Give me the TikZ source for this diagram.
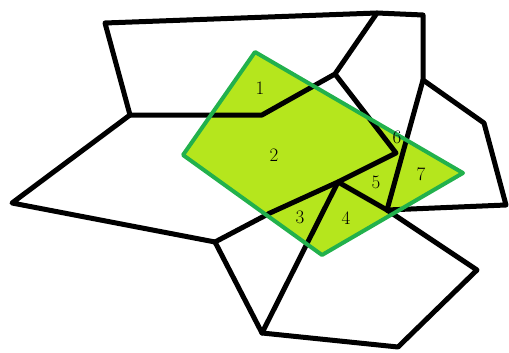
\documentclass[tikz,border=0pt]{standalone}
\usepackage{tikz}
\definecolor{paintgreen}{RGB}{34,177,76}
\definecolor{paintlime}{RGB}{181,230,29}

\begin{document}
\begin{tikzpicture}[x=1pt, y=-1pt, line join=round, line cap=round,
    edge/.style={line width=5pt, black},
    window/.style={line width=4pt, paintgreen},
    piece/.style={font=\fontsize{19}{19}\selectfont, inner sep=0pt}]

    \useasboundingbox (0,0) rectangle (509,353);

    % ================= Mesh vertices =================
    \coordinate (a) at (105,23);
    \coordinate (b) at (377,13);
    \coordinate (c) at (423,15);
    \coordinate (d) at (423,80);
    \coordinate (e) at (484,123);
    \coordinate (f) at (506,205);
    \coordinate (g) at (387,210);
    \coordinate (h) at (477,270);
    \coordinate (i) at (398,347);
    \coordinate (j) at (262,333);
    \coordinate (k) at (215,242);
    \coordinate (l) at (12,203);
    \coordinate (m) at (130,115);
    \coordinate (n) at (262,115);
    \coordinate (o) at (335,74);
    \coordinate (p) at (396,153);
    \coordinate (q) at (338,182);
    \coordinate (r) at (270,213);

    % Clip window corners
    \coordinate (wt) at (255,52);
    \coordinate (wl) at (183,155);
    \coordinate (wb) at (322,255);
    \coordinate (wr) at (463,173);

    % ================= Filled window =================
    \fill[paintlime] (wt) -- (wr) -- (wb) -- (wl) -- cycle;

    % ================= Mesh edges =================
    \draw[edge] (m) -- (a) -- (b) -- (c) -- (d) -- (e) -- (f) -- (g);
    \draw[edge] (m) -- (n) -- (o) -- (b);
    \draw[edge] (o) -- (p) -- (q) -- (r) -- (k);
    \draw[edge] (k) -- (l) -- (m);
    \draw[edge] (k) -- (j) -- (i) -- (h) -- (g);
    \draw[edge] (j) -- (q) -- (g);
    \draw[edge] (d) -- (g);

    % ================= Window outline =================
    \draw[window] (wt) -- (wr) -- (wb) -- (wl) -- cycle;

    % Piece labels
    \node[piece] (p1) at (260,88) {1};
    \node[piece] (p2) at (274,155) {2};
    \node[piece] (p3) at (300,217) {3};
    \node[piece] (p4) at (346,218) {4};
    \node[piece] (p5) at (376,182) {5};
    \node[piece] (p6) at (397,137) {6};
    \node[piece] (p7) at (421,174) {7};

\end{tikzpicture}
\end{document}
